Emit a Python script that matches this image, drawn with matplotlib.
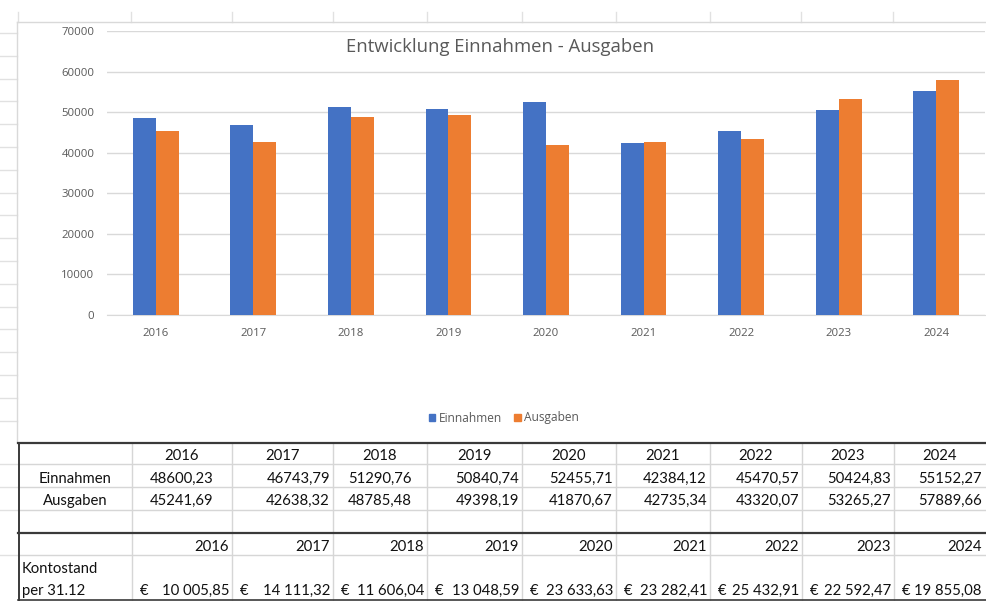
import matplotlib
matplotlib.use("Agg")
import matplotlib.pyplot as plt
from matplotlib.lines import Line2D
from matplotlib.patches import Patch
import numpy as np

# ---- data ----
years = ["2016", "2017", "2018", "2019", "2020", "2021", "2022", "2023", "2024"]
einnahmen = [48600.23, 46743.79, 51290.76, 50840.74, 52455.71, 42384.12, 45470.57, 50424.83, 55152.27]
ausgaben = [45241.69, 42638.32, 48785.48, 49398.19, 41870.67, 42735.34, 43320.07, 53265.27, 57889.66]
kontostand = [10005.85, 14111.32, 11606.04, 13048.59, 23633.63, 23282.41, 25432.91, 22592.47, 19855.08]
yticks = [0, 10000, 20000, 30000, 40000, 50000, 60000, 70000]
title = "Entwicklung Einnahmen - Ausgaben"
series_names = ["Einnahmen", "Ausgaben"]

W, H = 986, 601
fig = plt.figure(figsize=(W / 100, H / 100), dpi=100)
fig.patch.set_facecolor("white")

def fx(x):
    return x / W

def fy(y):
    return 1 - y / H

def hline(x0, x1, y, color, lw=1.0):
    fig.add_artist(Line2D([fx(x0), fx(x1)], [fy(y), fy(y)], color=color, lw=lw, transform=fig.transFigure))

def vline(x, y0, y1, color, lw=1.0):
    fig.add_artist(Line2D([fx(x), fx(x)], [fy(y0), fy(y1)], color=color, lw=lw, transform=fig.transFigure))

GRID_SHEET = "#E1E1E1"
TXT = "#595959"
BLUE = "#4472C4"
ORANGE = "#ED7D31"
CHART_FONT = ["Open Sans", "DejaVu Sans"]
TABLE_FONT = ["Lato", "DejaVu Sans"]

# ---- spreadsheet decorations ----
for x in [18, 131, 232, 333, 427, 522, 616, 710, 801, 893]:
    vline(x, 12, 22, GRID_SHEET)
for y in np.arange(33, 442, 22.8):
    hline(0, 17, y, GRID_SHEET)
for y in [464, 487, 510, 555]:
    hline(0, 17, y, GRID_SHEET)
# chart area border
hline(17, 986, 22, "#D9D9D9")
vline(17, 22, 442, "#D9D9D9")

# ---- chart ----
ax = fig.add_axes([fx(107), fy(315), fx(985) - fx(107), fy(31) - fy(315)])
x = np.arange(len(years))
w = 0.235
ax.bar(x - w / 2, einnahmen, width=w, color=BLUE, zorder=3, label=series_names[0])
ax.bar(x + w / 2, ausgaben, width=w, color=ORANGE, zorder=3, label=series_names[1])
ax.set_xlim(-0.5, len(years) - 0.5)
ax.set_ylim(0, 70000)
ax.set_yticks(yticks)
ax.set_yticklabels([str(v) for v in yticks])
ax.set_xticks(x)
ax.set_xticklabels(years)
ax.grid(axis="y", color="#D9D9D9", lw=1.0, zorder=0)
for s in ["top", "right", "left"]:
    ax.spines[s].set_visible(False)
ax.spines["bottom"].set_color("#D9D9D9")
ax.tick_params(axis="both", length=0, colors=TXT, labelsize=8.2)
ax.tick_params(axis="y", pad=9)
ax.tick_params(axis="x", pad=9)
for lab in ax.get_xticklabels() + ax.get_yticklabels():
    lab.set_family(CHART_FONT)

fig.text(fx(500), fy(47), title, ha="center", va="center", fontsize=13.3, color=TXT, family=CHART_FONT)

handles = [Patch(color=BLUE, label=series_names[0]), Patch(color=ORANGE, label=series_names[1])]
leg = fig.legend(handles=handles, loc="center", bbox_to_anchor=(fx(504), fy(418)), ncol=2, frameon=False,
                 handlelength=0.55, handleheight=0.55, handletextpad=0.3, columnspacing=1.0,
                 prop={"family": CHART_FONT, "size": 8.6})
for t in leg.get_texts():
    t.set_color(TXT)

# ---- table ----
cols = [18, 132, 232, 333, 427, 522, 616, 710, 802, 894, 986]
DARK = "#3A3A3A"
LIGHT = "#D6D6D6"
# light row lines
for y in [464, 487, 510, 555]:
    hline(18, 986, y, LIGHT)
# light column lines
for c in cols[1:-1]:
    vline(c, 443, 600, LIGHT)
# dark borders
hline(18, 986, 443, DARK, lw=1.6)
hline(18, 986, 533, DARK, lw=1.6)
hline(18, 986, 600, DARK, lw=1.2)
vline(18.5, 443, 601, DARK, lw=1.4)

FS = 10.7
def ttext(xp, yp, s, ha):
    fig.text(fx(xp), fy(yp + 2), s, ha=ha, va="center", fontsize=FS, color="#111111", family=TABLE_FONT)

def de(v):
    return f"{v:.2f}".replace(".", ",")

def de_thousands(v):
    s = f"{v:,.2f}"
    return s.replace(",", " ").replace(".", ",")

center_cols = {0, 2}  # 2016 and 2018 centered in the source sheet
for i, yr in enumerate(years):
    l, r = cols[i + 1], cols[i + 2]
    rr = min(r, 985)
    ttext((l + r) / 2, 454, yr, "center")
    for val, yp in [(einnahmen[i], 477), (ausgaben[i], 499)]:
        if i in center_cols:
            ttext((l + r) / 2, yp, de(val), "center")
        else:
            ttext(rr - 3, yp, de(val), "right")
    ttext(rr - 3, 545, yr, "right")
    ttext(l + 8, 589, "€", "left")
    ttext(rr - 3, 589, de_thousands(kontostand[i]), "right")

ttext(75, 477, series_names[0], "center")
ttext(75, 499, series_names[1], "center")
ttext(22, 567, "Kontostand", "left")
ttext(22, 589, "per 31.12", "left")

fig.savefig("out.png", dpi=100, facecolor="white")
